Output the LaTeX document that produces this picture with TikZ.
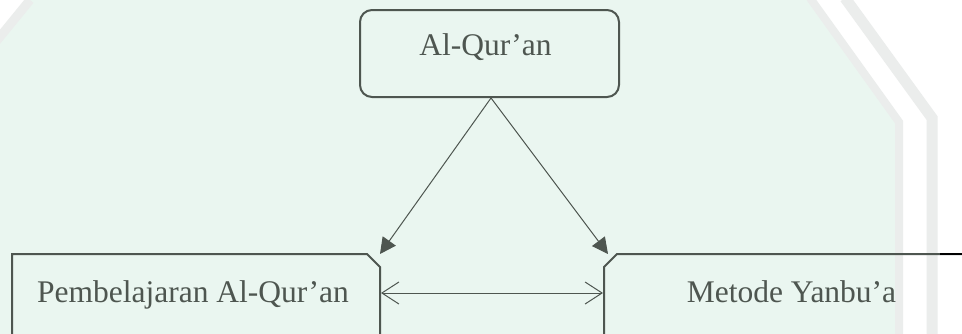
\documentclass[tikz,border=0pt]{standalone}
\usepackage{fontspec}
\setmainfont{Liberation Serif}
\usetikzlibrary{arrows.meta,calc}
\definecolor{mint}{RGB}{234,246,240}
\definecolor{ink}{RGB}{78,86,80}
\definecolor{wm}{RGB}{235,237,236}
\begin{document}
\begin{tikzpicture}[x=1pt,y=-1pt,
  boxline/.style={draw=ink,line width=2pt},
  topbox/.style={boxline,rectangle,rounded corners=12pt,minimum width=259pt,minimum height=87pt,inner sep=0pt},
  sidebox/.style={rectangle,inner sep=0pt,outer sep=0pt},
  txt/.style={text=ink,inner sep=0pt,font=\fontsize{31.5pt}{38pt}\selectfont},
  thin/.style={draw=ink,line width=1pt},
  tri/.style={thin,-{Triangle[length=16pt,width=16pt]}},
  dbl/.style={thin,{Straight Barb[length=17pt,width=22pt]}-{Straight Barb[length=17pt,width=22pt]}}
]
\clip (0,0) rectangle (962,333);
\fill[white] (0,0) rectangle (962,333);
% faint watermark background
\fill[mint] (30,0) -- (813,0) -- (899,120) -- (899,340) -- (-10,340) -- (-10,49) -- cycle;
\draw[wm,line width=9pt] (-10,49) -- (30,0);
\draw[wm,line width=8pt] (810,-2) -- (899,122) -- (899,340);
\draw[wm,line width=11pt] (845,-2) -- (932,118) -- (932,340);
% boxes
\node[topbox] (quran) at (489.5,53.5) {};
\node[txt,anchor=base] (tq) at (485.5,55) {Al-Qur’an};
\node[sidebox,minimum width=368pt,minimum height=166pt] (pa) at (196,337) {};
\draw[boxline] (pa.south west) -- (pa.north west) -- ([xshift=-13pt]pa.north east) -- ([yshift=-13pt]pa.north east) -- (pa.south east);
\node[txt,anchor=base] (pt) at (193,302) {Pembelajaran Al-Qur’an};
\node[sidebox,minimum width=496pt,minimum height=166pt] (mb) at (852,337) {};
\draw[boxline] (mb.south west) -- ([yshift=-13pt]mb.north west) -- ([xshift=13pt]mb.north west) -- (mb.north east);
\node[txt,anchor=base] (mt) at (791.5,302) {Metode Yanbu’a};
\draw[black,line width=2.5pt] (940,254) -- (962,254);
% connectors
\coordinate (ay) at (0,293);
\draw[dbl] ([xshift=1pt]pa.east |- ay) -- ([xshift=-1pt]mb.west |- ay);
\draw[tri] ([xshift=1.5pt]quran.south) -- (pa.east |- pa.north);
\draw[tri] ([xshift=1.5pt]quran.south) -- ([xshift=4pt]mb.west |- mb.north);
\end{tikzpicture}
\end{document}
